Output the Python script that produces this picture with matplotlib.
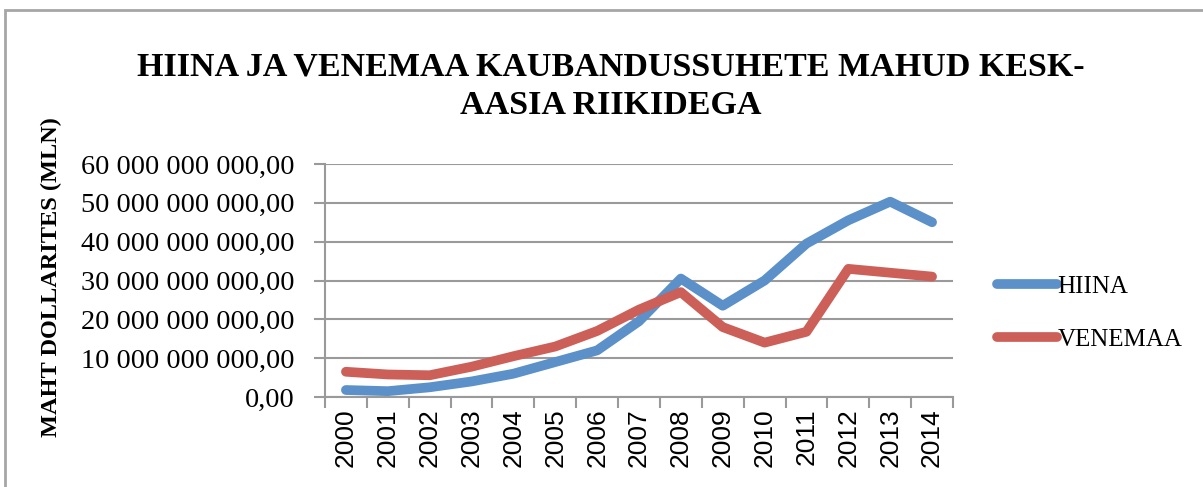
import matplotlib
matplotlib.use("Agg")
import matplotlib.pyplot as plt
from matplotlib.ticker import FuncFormatter, FixedLocator
from matplotlib.patches import Rectangle

# andmed (loetud jooniselt, USD)
aastad = ["2000", "2001", "2002", "2003", "2004", "2005", "2006", "2007",
          "2008", "2009", "2010", "2011", "2012", "2013", "2014"]
hiina = [1.8e9, 1.5e9, 2.5e9, 4.0e9, 6.0e9, 9.0e9, 12.0e9, 19.5e9,
         30.5e9, 23.5e9, 30.0e9, 39.5e9, 45.5e9, 50.3e9, 45.0e9]
venemaa = [6.5e9, 5.8e9, 5.6e9, 7.8e9, 10.5e9, 13.0e9, 17.0e9, 22.5e9,
           27.0e9, 18.0e9, 14.0e9, 16.8e9, 33.0e9, 32.0e9, 31.0e9]

sinine = "#5B90C8"
punane = "#CC6058"
hall = "#9a9a9a"

fig = plt.figure(figsize=(12.03, 4.87), dpi=100)
fig.patches.append(Rectangle((5 / 1203, -0.1), 1.2, 1.1 - 10 / 487,
                             transform=fig.transFigure, fill=False,
                             edgecolor="#a6a6a6", linewidth=2))

ax = fig.add_axes([325 / 1203, 1 - 397 / 487, (953 - 325) / 1203, (397 - 164) / 487])

x = list(range(len(aastad)))
ax.plot(x, hiina, color=sinine, linewidth=7, solid_capstyle="round",
        solid_joinstyle="round", label="HIINA")
ax.plot(x, venemaa, color=punane, linewidth=7, solid_capstyle="round",
        solid_joinstyle="round", label="VENEMAA")

ax.set_xlim(-0.5, len(aastad) - 0.5)
ax.set_ylim(0, 60e9)
ax.set_yticks([i * 10e9 for i in range(7)])


def fmt(v, pos):
    s = f"{int(round(v)):,}".replace(",", " ")
    return s + ",00"


ax.yaxis.set_major_formatter(FuncFormatter(fmt))
ax.grid(axis="y", color=hall, linewidth=1.5)
ax.set_axisbelow(True)

ax.set_xticks(x)
ax.set_xticklabels(aastad, rotation=90, fontfamily="Liberation Sans", fontsize=19)
ax.xaxis.set_minor_locator(FixedLocator([i - 0.5 for i in range(len(aastad) + 1)]))
ax.tick_params(axis="x", which="major", length=0, pad=8)
ax.tick_params(axis="x", which="minor", length=8, width=1.5, color=hall)
ax.tick_params(axis="y", length=8, width=1.5, color=hall, pad=14)
for lab in ax.get_yticklabels():
    lab.set_fontfamily("Liberation Serif")
    lab.set_fontsize(20.3)

for s in ["top", "right"]:
    ax.spines[s].set_visible(False)
for s in ["left", "bottom"]:
    ax.spines[s].set_color(hall)
    ax.spines[s].set_linewidth(1.5)

fig.text(0.508, 1 - 86 / 487, "HIINA JA VENEMAA KAUBANDUSSUHETE MAHUD KESK-\nAASIA RIIKIDEGA",
         ha="center", va="center", fontsize=24.5, fontweight="bold",
         fontfamily="Liberation Serif", linespacing=1.3)

fig.text(0.043, 1 - 277 / 487, "MAHT DOLLARITES (MLN)", rotation=90,
         ha="center", va="center", fontsize=17.5, fontweight="bold",
         fontfamily="Liberation Serif")

ax.legend(loc="center left", bbox_to_anchor=(1.035, 0.36), frameon=False,
          prop={"family": "Liberation Serif", "size": 18},
          handlelength=2.4, handletextpad=0.0, labelspacing=1.2)

fig.savefig("out.png", dpi=100)
